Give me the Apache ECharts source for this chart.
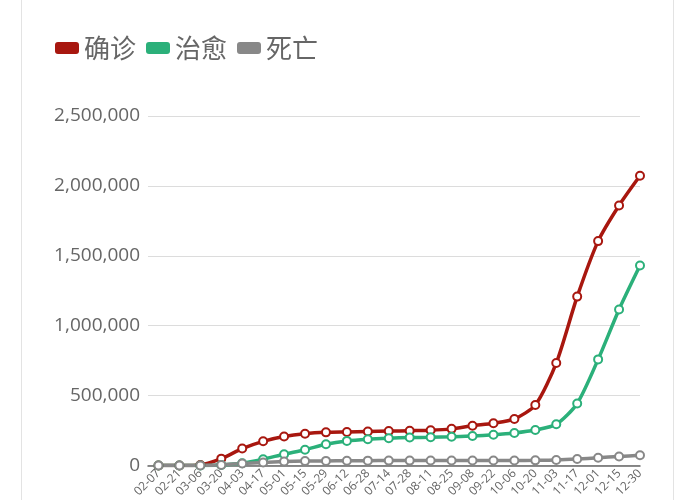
<!DOCTYPE html>
<html>
<head>
<meta charset="utf-8">
<script src="https://cdn.jsdelivr.net/npm/echarts@6/dist/echarts.min.js"></script>
<style>
  html, body { margin: 0; padding: 0; background: #fff; }
  #frame { position: absolute; left: 21px; top: 0; width: 651px; height: 500px;
           border-left: 1px solid #e3e3e3; border-right: 1px solid #e3e3e3; }
  #chart { position: absolute; left: 0; top: 0; width: 700px; height: 500px; }
</style>
</head>
<body>
<div id="frame"></div>
<div id="chart"></div>
<script>
// Category labels (one every two weeks)
const dates = ['02-07','02-21','03-06','03-20','04-03','04-17','05-01','05-15','05-29','06-12',
               '06-28','07-14','07-28','08-11','08-25','09-08','09-22','10-06','10-20','11-03',
               '11-17','12-01','12-15','12-30'];
// 确诊 (confirmed)
const confirmed = [0, 0, 4000, 49000, 121000, 173000, 207000, 227000, 237000, 240000,
                   243000, 246000, 249000, 252000, 262000, 284000, 302000, 333000, 433000, 733000,
                   1208000, 1605000, 1860000, 2072000];
// 治愈 (recovered)
const recovered = [0, 0, 0, 4000, 16000, 45000, 81000, 113000, 152000, 176000,
                   188000, 195000, 200000, 202000, 206000, 211000, 220000, 233000, 254000, 295000,
                   444000, 759000, 1116000, 1430000];
// 死亡 (deaths)
const deaths = [0, 0, 200, 4000, 14000, 22000, 28000, 31500, 33000, 34000,
                34700, 35000, 35100, 35200, 35400, 35600, 35800, 36200, 36800, 39000,
                46000, 56000, 65000, 73000];
const yTicks = [0, 500000, 1000000, 1500000, 2000000, 2500000];
const seriesNames = ['确诊', '治愈', '死亡'];
const colors = ['#a8170f', '#2bb07a', '#888888'];

const idx = dates.map((d, i) => i);
const toPairs = arr => arr.map((v, i) => [i, v]);

const chart = echarts.init(document.getElementById('chart'), null, { renderer: 'canvas' });
const mkSeries = (name, data, color) => ({
  name: name,
  type: 'line',
  data: toPairs(data),
  smooth: 0.25,
  symbol: 'emptyCircle',
  symbolSize: 8,
  showSymbol: true,
  lineStyle: { width: 3.5, color: color },
  itemStyle: { color: color, borderWidth: 1 },
  emphasis: { disabled: true }
});

chart.setOption({
  animation: false,
  textStyle: { fontFamily: "'Open Sans', 'Noto Sans CJK SC', sans-serif" },
  color: colors,
  legend: {
    left: 50,
    top: 30,
    icon: 'roundRect',
    itemWidth: 24,
    itemHeight: 12,
    itemGap: 10,
    textStyle: { fontSize: 26, color: '#666', fontFamily: "'Noto Sans CJK SC', sans-serif" },
    data: seriesNames
  },
  grid: { left: 148, right: 60, top: 116, bottom: 34, containLabel: false },
  xAxis: {
    type: 'value',
    min: -0.5,
    max: dates.length - 1,
    splitLine: { show: false },
    axisTick: { show: false },
    axisLine: { show: true, onZero: false, lineStyle: { color: '#666', width: 1.5 } },
    axisLabel: {
      customValues: idx,
      formatter: v => dates[Math.round(v)] || '',
      rotate: 45,
      fontSize: 12,
      color: '#666',
      margin: 6
    }
  },
  yAxis: {
    type: 'value',
    min: yTicks[0],
    max: yTicks[yTicks.length - 1],
    interval: yTicks[1] - yTicks[0],
    axisLine: { show: false },
    axisTick: { show: false },
    splitLine: { lineStyle: { color: '#dcdcdc', width: 1 } },
    axisLabel: {
      fontSize: 19,
      color: '#666',
      margin: 8,
      formatter: v => v.toLocaleString('en-US')
    }
  },
  series: [
    mkSeries(seriesNames[0], confirmed, colors[0]),
    mkSeries(seriesNames[1], recovered, colors[1]),
    mkSeries(seriesNames[2], deaths, colors[2])
  ]
});
</script>
</body>
</html>
